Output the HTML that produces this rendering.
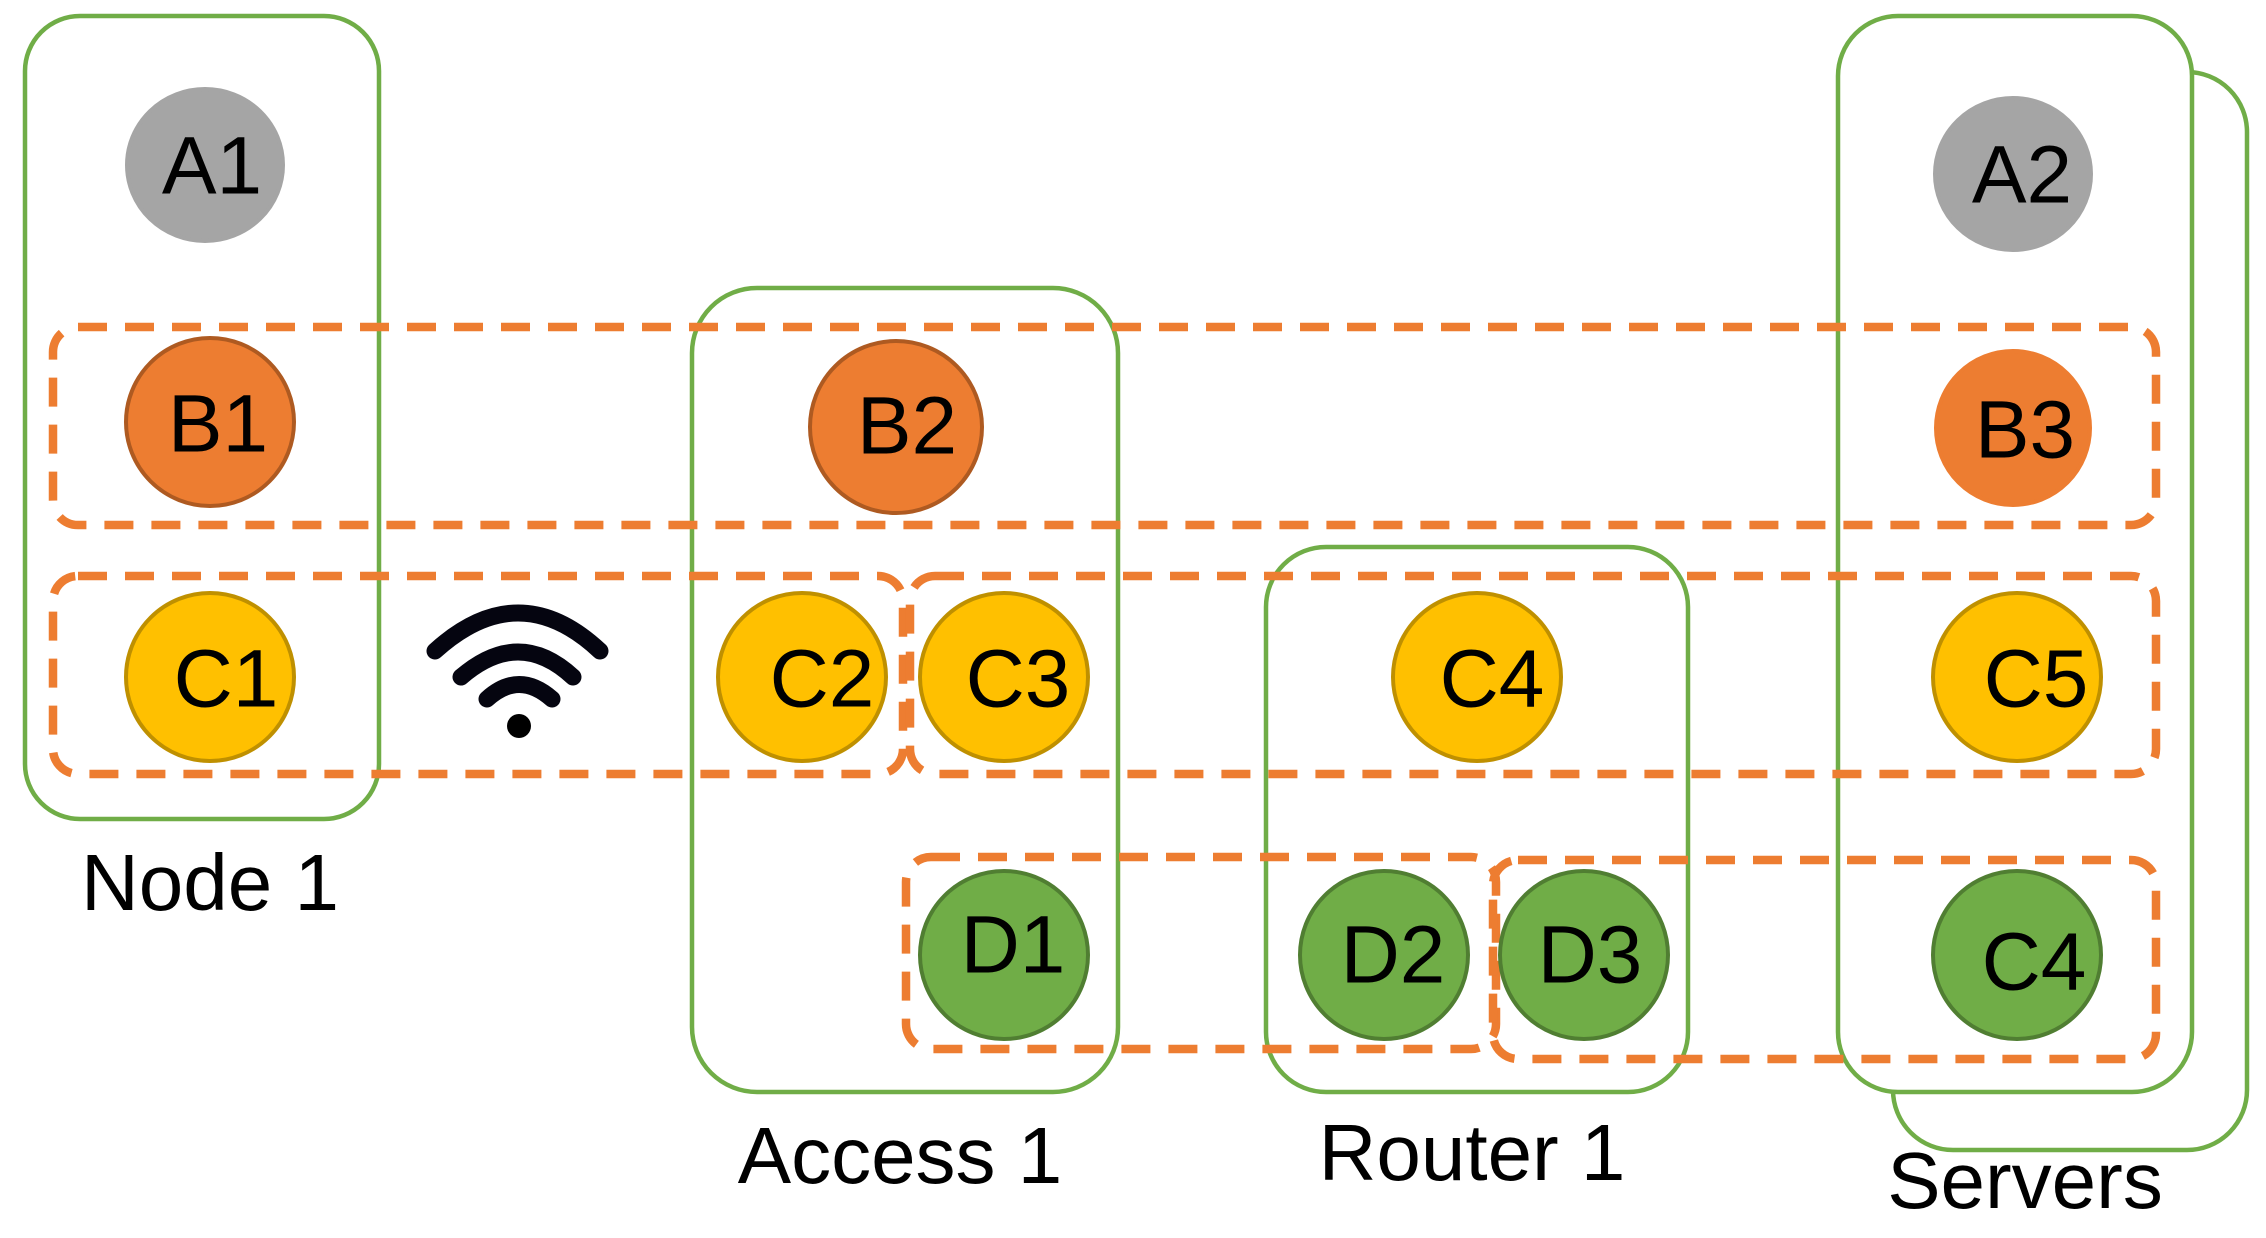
<!DOCTYPE html>
<html><head><meta charset="utf-8"><style>html,body{margin:0;padding:0;background:#fff}svg{display:block}</style></head>
<body>
<svg width="2266" height="1238" viewBox="0 0 2266 1238" xmlns="http://www.w3.org/2000/svg" font-family="Liberation Sans, Arial, sans-serif">
<g fill="none" stroke="#70ad47" stroke-width="4.5">
<rect x="1893" y="72" width="354" height="1078" rx="60"/>
<rect x="1838" y="16" width="354" height="1076" rx="60" fill="#fff"/>
<rect x="25" y="16" width="354" height="803" rx="55"/>
<rect x="692" y="288" width="426" height="804" rx="65"/>
<rect x="1266" y="547" width="422" height="545" rx="60"/>
</g>
<g fill="none" stroke="#ed7d31" stroke-width="8.5" stroke-dasharray="29 18">
<rect x="53" y="327" width="2103" height="198" rx="25"/>
<rect x="53" y="576" width="850" height="198" rx="25"/>
<rect x="910" y="576" width="1246" height="198" rx="25"/>
<rect x="906" y="857" width="590" height="192" rx="25"/>
<rect x="1493" y="860" width="663" height="199" rx="25"/>
</g>
<g stroke-width="4">
<ellipse cx="205" cy="165" rx="78" ry="76" fill="#a5a5a5" stroke="#a5a5a5"/>
<ellipse cx="2013" cy="174" rx="78" ry="76" fill="#a5a5a5" stroke="#a5a5a5"/>
<circle cx="210" cy="422" r="84" fill="#ed7d31" stroke="#ae5a21"/>
<circle cx="896" cy="427" r="86" fill="#ed7d31" stroke="#ae5a21"/>
<circle cx="2013" cy="428" r="77" fill="#ed7d31" stroke="#ed7d31"/>
<circle cx="210" cy="677" r="84" fill="#ffc000" stroke="#bf9000"/>
<circle cx="802" cy="677" r="84" fill="#ffc000" stroke="#bf9000"/>
<circle cx="1004" cy="677" r="84" fill="#ffc000" stroke="#bf9000"/>
<circle cx="1477" cy="677" r="84" fill="#ffc000" stroke="#bf9000"/>
<circle cx="2017" cy="677" r="84" fill="#ffc000" stroke="#bf9000"/>
<circle cx="1004" cy="955" r="84" fill="#70ad47" stroke="#507e32"/>
<circle cx="1384" cy="955" r="84" fill="#70ad47" stroke="#507e32"/>
<circle cx="1584" cy="955" r="84" fill="#70ad47" stroke="#507e32"/>
<circle cx="2017" cy="955" r="84" fill="#70ad47" stroke="#507e32"/>
</g>
<g font-size="82" fill="#000" text-anchor="middle" dominant-baseline="central">
<text x="212" y="166">A1</text>
<text x="2022" y="175">A2</text>
<text x="218" y="424">B1</text>
<text x="907" y="426">B2</text>
<text x="2025" y="430">B3</text>
<text x="226" y="679">C1</text>
<text x="822" y="679">C2</text>
<text x="1018" y="679">C3</text>
<text x="1492" y="679">C4</text>
<text x="2036" y="679">C5</text>
<text x="1013" y="945">D1</text>
<text x="1393" y="955">D2</text>
<text x="1590" y="955">D3</text>
<text x="2034" y="962">C4</text>
</g>
<g font-size="80" fill="#000" text-anchor="middle">
<text x="210" y="910">Node 1</text>
<text x="900" y="1183">Access 1</text>
<text x="1472" y="1180">Router 1</text>
<text x="2025" y="1208">Servers</text>
</g>
<g fill="none" stroke="#050510" stroke-width="17" stroke-linecap="round">
<path d="M435 651 Q519 575 600 651"/>
<path d="M461 677 Q519 627 573 677"/>
<path d="M487 699 Q519 670 552 699"/>
</g>
<circle cx="519" cy="726" r="12" fill="#000"/>
</svg>
</body></html>
